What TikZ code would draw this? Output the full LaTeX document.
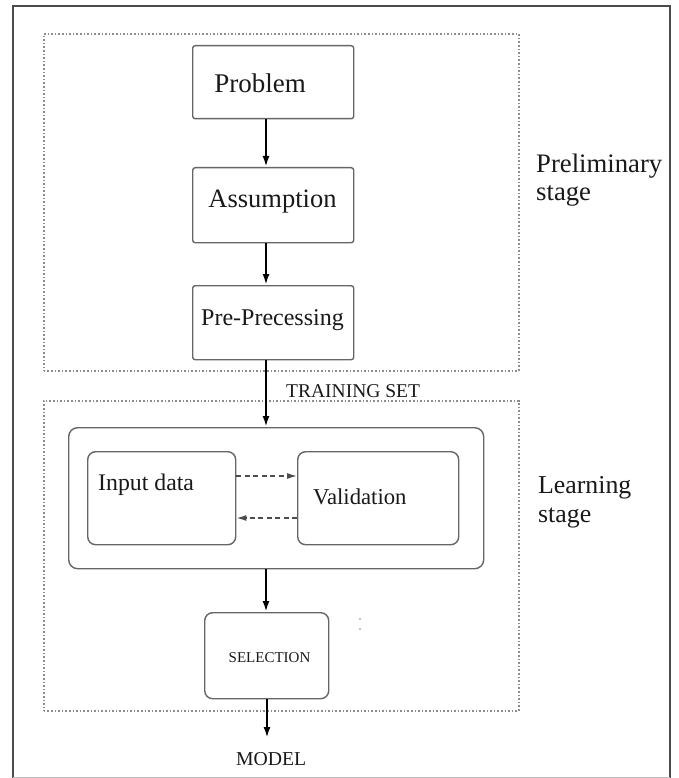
\documentclass[tikz,border=0pt]{standalone}
\usepackage{fontspec}
\setmainfont{Liberation Serif}
\usetikzlibrary{arrows.meta}
\newcommand\myfs[1]{\fontsize{#1}{#1}\selectfont}
\begin{document}
\begin{tikzpicture}[x=1pt,y=-1pt,
  box/.style={draw=black!60, line width=1.4pt, rounded corners=2.5pt, inner sep=0pt, anchor=north west},
  rbox/.style={draw=black!60, line width=1.4pt, rounded corners=9pt, inner sep=0pt, anchor=north west},
  stagebox/.style={draw=black!45, line width=1.6pt, dotted, inner sep=0pt, anchor=north west},
  flow/.style={line width=2.3pt, -{Latex[length=11pt,width=7pt]}},
  dflow/.style={draw=black!70, line width=1.4pt, dash pattern=on 5pt off 3.5pt, -{Latex[length=10pt,width=6pt]}},
  lbl/.style={inner sep=0pt, anchor=base west, text=black!90},
  clbl/.style={inner sep=0pt, anchor=base, text=black!90},
]
\useasboundingbox (0,0) rectangle (679,778);
\fill[white] (0,0) rectangle (679,778);
% outer frame
\draw[black!70, line width=2pt] (13,778) -- (13,6) -- (670,6) -- (670,778);
\draw[black!25, line width=1pt] (13,777) -- (670,777);

% stage boxes
\node[stagebox, minimum width=475pt, minimum height=337pt] (prelim) at (43,33) {};
\node[stagebox, minimum width=475pt, minimum height=310pt] (learn) at (43,400) {};

% boxes
\node[box, minimum width=161pt, minimum height=73pt] (problem) at (192,45) {};
\node[box, minimum width=161pt, minimum height=75pt] (assump) at (192,167) {};
\node[box, minimum width=161pt, minimum height=74pt] (prepro) at (192,285) {};
\node[rbox, minimum width=415pt, minimum height=141pt] (big) at (68,427) {};
\node[rbox, rounded corners=8pt, minimum width=148pt, minimum height=93pt] (input) at (87,451) {};
\node[rbox, rounded corners=8pt, minimum width=161pt, minimum height=93pt] (valid) at (297,451) {};
\node[rbox, rounded corners=8pt, minimum width=124pt, minimum height=86pt] (select) at (204,612) {};

% texts
\node[clbl] (tproblem) at (260,93) {\myfs{27}Problem};
\node[clbl] (tassump) at (272.5,207) {\myfs{26.5}Assumption};
\node[clbl] (tprepro) at (272.5,325) {\myfs{24}Pre-Precessing};
\node[lbl] (ttrain) at (286,397) {\myfs{19.5}TRAINING SET};
\node[lbl] (tinput) at (98,490) {\myfs{23.8}Input data};
\node[lbl] (tvalid) at (313,504) {\myfs{22.7}Validation};
\node[clbl] (tselect) at (269.5,662) {\myfs{15}SELECTION};
\node[lbl] (model) at (236,765) {\myfs{19.7}MODEL};
\node[lbl] (tprel1) at (536,172) {\myfs{26.7}Preliminary};
\node[lbl] (tprel2) at (536,200) {\myfs{26.7}stage};
\node[lbl] (tlearn1) at (538,493) {\myfs{25.8}Learning};
\node[lbl] (tlearn2) at (538,522) {\myfs{25.8}stage};

% connectors
\coordinate (ax) at (266,0);
\draw[flow] (ax |- problem.south) -- (ax |- assump.north);
\draw[flow] (ax |- assump.south) -- (ax |- prepro.north);
\draw[flow] (ax |- prepro.south) -- (ax |- big.north);
\draw[flow] (ax |- big.south) -- (ax |- select.north);
\coordinate (mx) at (267,738);
\draw[flow] (mx |- select.south) -- (mx);
\coordinate (dy1) at (0,476);
\coordinate (dy2) at (0,518);
\draw[dflow] (input.east |- dy1) -- (valid.west |- dy1);
\draw[dflow] (valid.west |- dy2) -- (input.east |- dy2);

% faint specks
\fill[black!30] (360,619) circle (1.2pt);
\fill[black!30] (360,629) circle (1.2pt);
\end{tikzpicture}
\end{document}
